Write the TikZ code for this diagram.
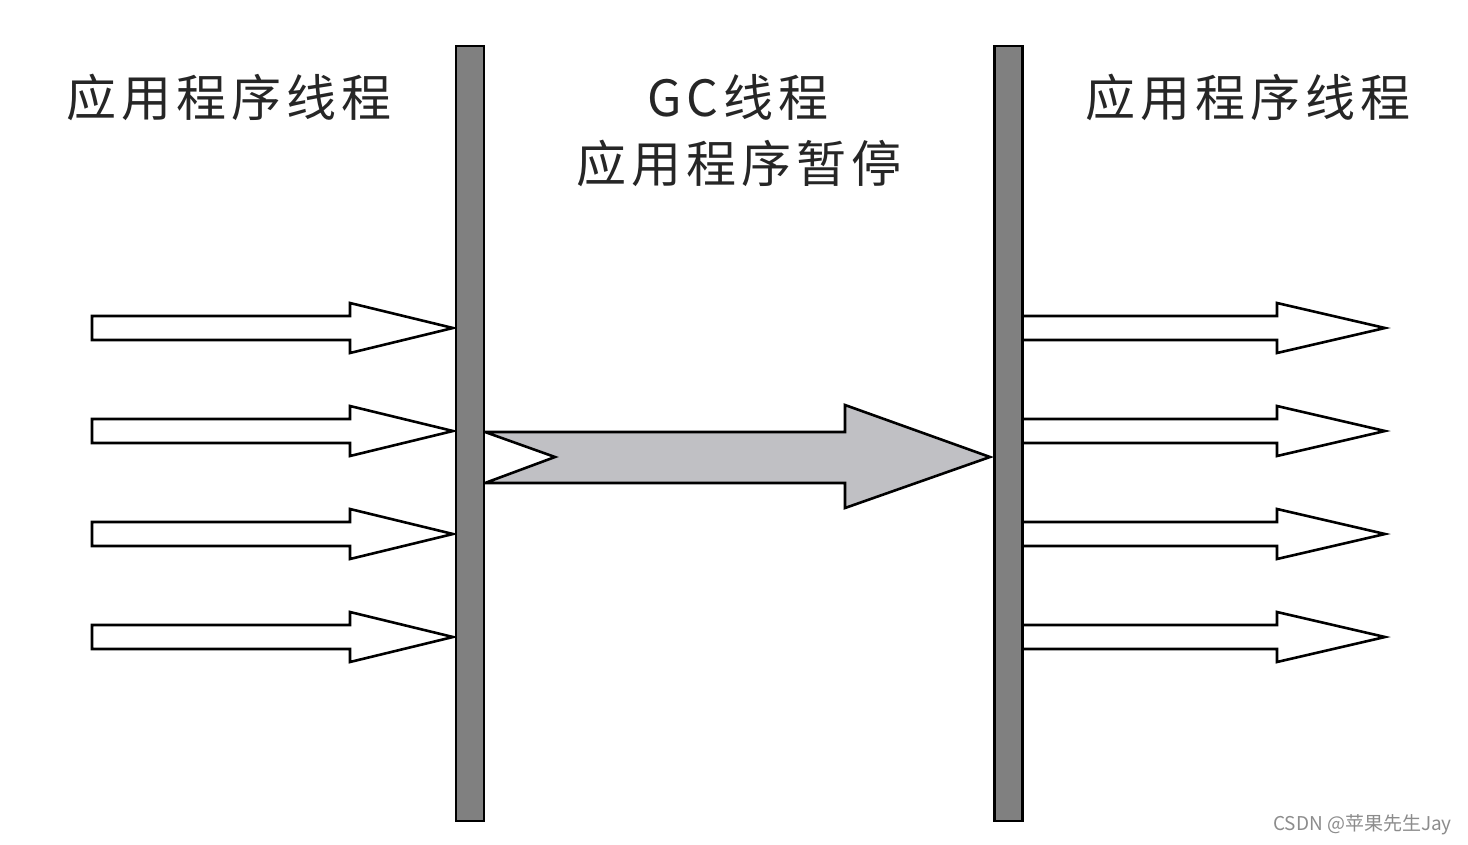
\documentclass[tikz,border=0pt]{standalone}
\usepackage{fontspec}
\newfontfamily\cjk{Noto Sans CJK SC}
\newfontfamily\cjkwide[LetterSpace=10]{Noto Sans CJK SC}
\usetikzlibrary{positioning}
\definecolor{bargray}{RGB}{128,128,128}
\definecolor{pausegray}{RGB}{192,192,196}

\begin{document}
\begin{tikzpicture}[x=1pt, y=-1pt, line join=miter,
  bar/.style={draw=black, fill=bargray, line width=2.5pt, minimum width=28pt, minimum height=775pt, inner sep=0pt},
  hollow/.style={draw=black, fill=white, line width=2.6pt},
  gcarrow/.style={draw=black, fill=pausegray, line width=2.6pt},
  heading/.style={font=\cjkwide\fontsize{50}{58}\selectfont, text=black!85, inner sep=0pt},
  watermark/.style={font=\cjk\fontsize{19}{21}\selectfont, text=black!45, inner sep=0pt}]
  \useasboundingbox (0,0) rectangle (1468,844);

  % Headings
  \node[heading] (appleft) at (229,97) {应用程序线程};
  \node[heading] (gcthread) at (738,97) {GC线程};
  \node[heading] (apppause) at (739,163) {应用程序暂停};
  \node[heading] (appright) at (1248,97) {应用程序线程};

  % Application threads running up to the pause
  \foreach \y in {328,431,534,637} {
    \draw[hollow] (92,\y-12) -- (350,\y-12) -- (350,\y-25) -- (453,\y)
      -- (350,\y+25) -- (350,\y+12) -- (92,\y+12) -- cycle;
  }

  % Application threads resuming after the pause
  \foreach \y in {328,431,534,637} {
    \draw[hollow] (1023,\y-12) -- (1277,\y-12) -- (1277,\y-25) -- (1385,\y)
      -- (1277,\y+25) -- (1277,\y+12) -- (1023,\y+12);
  }

  % The GC thread (gray arrow with a notched tail)
  \draw[gcarrow] (485,432) -- (845,432) -- (845,405) -- (990,457)
    -- (845,508) -- (845,483) -- (485,483) -- (555,457) -- cycle;

  % Safepoint bars
  \node[bar] (stopbar) at (470,433.5) {};
  \node[bar] (resumebar) at (1008.5,433.5) {};

  % watermark
  \node[watermark, anchor=east] (credit) at (1452,825) {CSDN @苹果先生Jay};

\end{tikzpicture}
\end{document}
